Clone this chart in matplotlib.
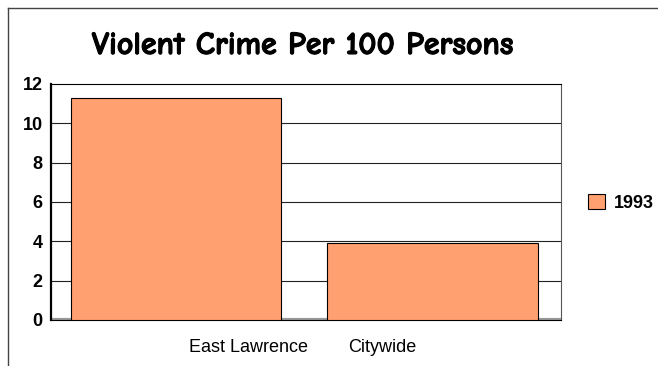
import matplotlib
matplotlib.use('Agg')
import matplotlib.pyplot as plt
import matplotlib.patheffects as pe
from matplotlib.patches import Patch
from matplotlib.lines import Line2D

categories = ['East Lawrence', 'Citywide']
values_1993 = [11.3, 3.9]
series_name = '1993'
yticks = [0, 2, 4, 6, 8, 10, 12]

plt.rcParams['font.family'] = ['Liberation Sans', 'DejaVu Sans']

fig = plt.figure(figsize=(6.58, 3.66), dpi=100)
ax = fig.add_axes([51 / 658, 46 / 366, 510 / 658, 236 / 366])

# outer frame (left and top only, as in the reference)
fig.add_artist(Line2D([8 / 658, 8 / 658], [0, 1 - 8 / 366], color='#444444', lw=1.0))
fig.add_artist(Line2D([8 / 658, 1], [1 - 8 / 366, 1 - 8 / 366], color='#444444', lw=1.0))

bar_pos = [-0.01, 0.995]
ax.bar(bar_pos, values_1993, width=0.827, color='#FFA070', edgecolor='black',
       linewidth=0.8, zorder=3)

ax.set_xlim(-0.5, 1.5)
ax.set_ylim(0, 12)
ax.set_yticks(yticks)
ax.set_yticklabels([str(v) for v in yticks], fontweight='bold', fontsize=13)
for v in yticks[1:-1]:
    ax.axhline(v, color='#222222', lw=0.8, zorder=1)
ax.axhline(0, color='#999999', lw=3, zorder=2)

# category labels sit off-centre in the original
ax.set_xticks([0.276, 0.798])
ax.set_xticklabels(categories, fontsize=13)
ax.tick_params(axis='x', length=0, pad=14)
ax.tick_params(axis='y', length=0, pad=6)

for side in ['top', 'right', 'bottom']:
    ax.spines[side].set_linewidth(0.8)
ax.spines['right'].set_color('#555555')
ax.spines['left'].set_linewidth(1.6)

# comic font has no bold face here, so thicken it with a stroke
fig.text(303 / 658, 1 - 46 / 366, 'Violent Crime Per 100 Persons', ha='center',
         va='center', fontsize=23, fontweight='bold',
         family=['Comic Neue', 'DejaVu Sans'],
         path_effects=[pe.withStroke(linewidth=0.8, foreground='black')])

handle = Patch(facecolor='#FFA070', edgecolor='black', linewidth=0.8)
leg = fig.legend([handle], [series_name], loc='center left',
                 bbox_to_anchor=(572 / 658, 1 - 203 / 366), frameon=False,
                 prop={'weight': 'bold', 'size': 13}, handlelength=0.9,
                 handleheight=0.9, handletextpad=0.5)

fig.savefig('out.png', dpi=100)
